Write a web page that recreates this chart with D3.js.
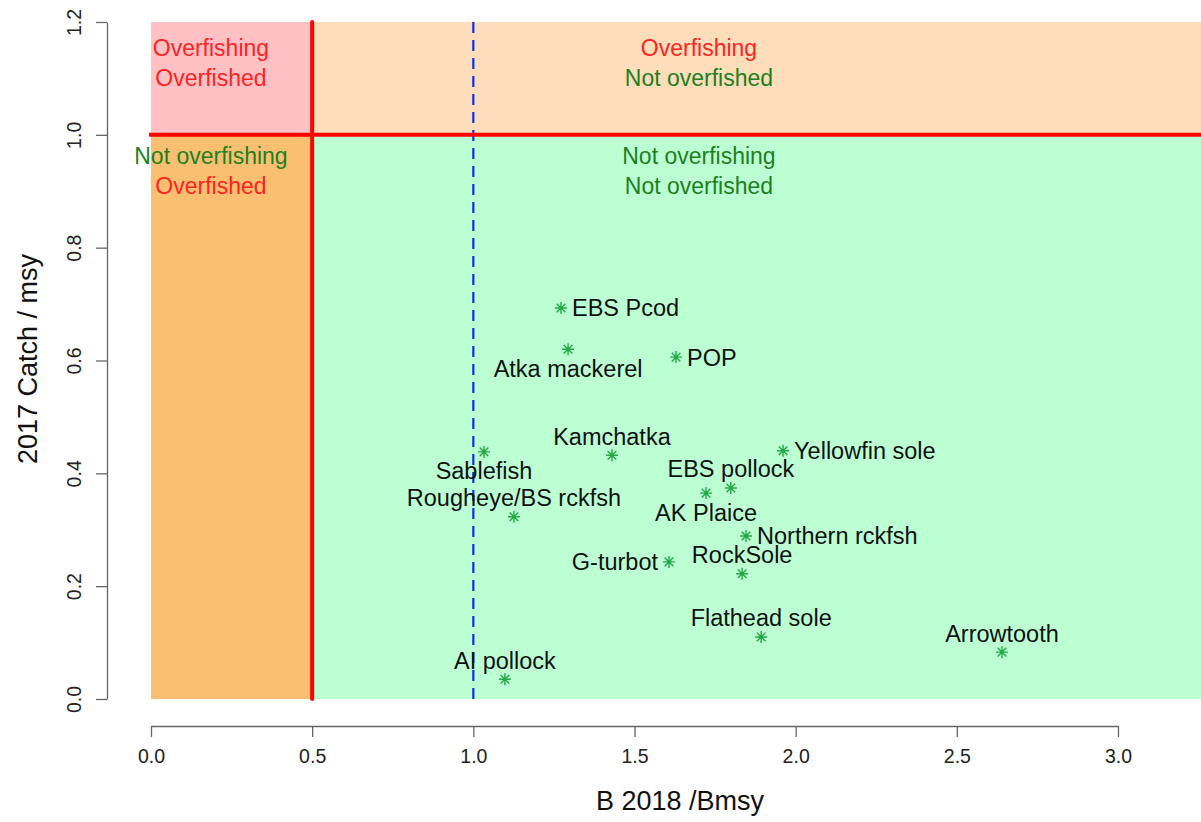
<!DOCTYPE html>
<html>
<head>
<meta charset="utf-8">
<script src="https://cdn.jsdelivr.net/npm/d3@7"></script>
<style>
  html, body { margin: 0; padding: 0; background: #fff; }
  svg { display: block; font-family: "Liberation Sans", Arial, sans-serif; }
</style>
</head>
<body>
<svg id="chart" width="1201" height="822"></svg>
<script>
// ---- data ----
const species = ["EBS Pcod", "Atka mackerel", "POP", "Kamchatka", "Sablefish",
  "Yellowfin sole", "EBS pollock", "AK Plaice", "Rougheye/BS rckfsh",
  "Northern rckfsh", "G-turbot", "RockSole", "Flathead sole", "Arrowtooth", "AI pollock"];
const bRatio = [1.272, 1.294, 1.629, 1.430, 1.033, 1.961, 1.799, 1.722, 1.126,
  1.846, 1.607, 1.834, 1.893, 2.640, 1.098];
const catchRatio = [0.693, 0.620, 0.606, 0.432, 0.438, 0.440, 0.374, 0.365, 0.323,
  0.289, 0.243, 0.222, 0.110, 0.083, 0.035];
// R text() pos codes: 1 below, 2 left, 3 above, 4 right
const labelPos = [4, 1, 4, 3, 1, 4, 3, 1, 3, 4, 2, 3, 3, 3, 3];

const xTicks = [0, 0.5, 1.0, 1.5, 2.0, 2.5, 3.0];
const yTicks = [0, 0.2, 0.4, 0.6, 0.8, 1.0, 1.2];

const bLimit = 0.5, bTarget = 1.0, fLimit = 1.0, yTop = 1.2, xRight = 3.4;

const zones = [
  { x0: 0, x1: bLimit, y0: fLimit, y1: yTop, fill: "#FFC1C4" },
  { x0: bLimit, x1: xRight, y0: fLimit, y1: yTop, fill: "#FDDDBA" },
  { x0: 0, x1: bLimit, y0: 0, y1: fLimit, fill: "#FBBF71" },
  { x0: bLimit, x1: xRight, y0: 0, y1: fLimit, fill: "#BBFFD2" }
];
const zoneText = [
  { x: 0.186, y: 1.128, lines: [["Overfishing", "red"], ["Overfished", "red"]] },
  { x: 1.70, y: 1.128, lines: [["Overfishing", "red"], ["Not overfished", "green"]] },
  { x: 0.186, y: 0.936, lines: [["Not overfishing", "green"], ["Overfished", "red"]] },
  { x: 1.70, y: 0.936, lines: [["Not overfishing", "green"], ["Not overfished", "green"]] }
];

// ---- drawing ----
const svg = d3.select("#chart");
const x = d3.scaleLinear().domain([0, 3]).range([151, 1118]);
const y = d3.scaleLinear().domain([0, 1.2]).range([699, 22]);
const textColor = { red: "#FF2424", green: "#1E7F1E" };

svg.append("g").selectAll("rect").data(zones).join("rect")
  .attr("x", d => x(d.x0)).attr("y", d => y(d.y1))
  .attr("width", d => x(d.x1) - x(d.x0)).attr("height", d => y(d.y0) - y(d.y1))
  .attr("fill", d => d.fill);

// reference lines
svg.append("line")
  .attr("x1", x(bTarget)).attr("x2", x(bTarget)).attr("y1", y(0)).attr("y2", y(yTop))
  .attr("stroke", "#1030E8").attr("stroke-width", 2.2).attr("stroke-dasharray", "11,7");
svg.append("line")
  .attr("x1", x(0) - 2).attr("x2", x(xRight)).attr("y1", y(fLimit)).attr("y2", y(fLimit))
  .attr("stroke", "#FF0000").attr("stroke-width", 4);
svg.append("line")
  .attr("x1", x(bLimit)).attr("x2", x(bLimit)).attr("y1", y(0)).attr("y2", y(yTop))
  .attr("stroke", "#FF0000").attr("stroke-width", 4).attr("stroke-linecap", "round");

// zone texts
const zt = svg.append("g").attr("font-size", 23).attr("text-anchor", "middle");
zoneText.forEach(z => {
  z.lines.forEach((l, i) => {
    zt.append("text")
      .attr("x", x(z.x)).attr("y", y(z.y) + (i - 0.5) * 30)
      .attr("dy", "0.36em")
      .attr("fill", textColor[l[1]])
      .text(l[0]);
  });
});

// axes
const xAxis = d3.axisBottom(x).tickValues(xTicks).tickFormat(d3.format(".1f"))
  .tickSizeOuter(0).tickSizeInner(11).tickPadding(6);
const gx = svg.append("g").attr("transform", "translate(0,726)").call(xAxis);
gx.selectAll("text").attr("font-size", 19.5).attr("fill", "#222")
  .attr("font-family", "Liberation Sans, Arial, sans-serif").attr("dy", "1.0em");

const yAxis = d3.axisLeft(y).tickValues(yTicks).tickFormat(d3.format(".1f"))
  .tickSizeOuter(0).tickSizeInner(11);
const gy = svg.append("g").attr("transform", "translate(107,0)").call(yAxis);
gy.selectAll("text").attr("font-size", 19.5).attr("fill", "#222")
  .attr("font-family", "Liberation Sans, Arial, sans-serif")
  .attr("transform", "rotate(-90)").attr("x", 0).attr("y", -26).attr("dy", 0)
  .attr("text-anchor", "middle");
[gx, gy].forEach(g => {
  g.selectAll("path.domain").attr("stroke", "#666").attr("stroke-width", 1.3);
  g.selectAll(".tick line").attr("stroke", "#666").attr("stroke-width", 1.3);
});

// axis titles
svg.append("text").attr("x", 680).attr("y", 810).attr("text-anchor", "middle")
  .attr("font-size", 27).attr("fill", "#111").text("B 2018 /Bmsy");
svg.append("text").attr("transform", "translate(37,359) rotate(-90)")
  .attr("text-anchor", "middle").attr("font-size", 27).attr("fill", "#111")
  .text("2017 Catch / msy");

// points (asterisk, pch = 8)
const pts = species.map((s, i) => ({ name: s, b: bRatio[i], c: catchRatio[i], pos: labelPos[i] }));
const r = 6, rd = r * 0.72;
const star = `M${-r},0L${r},0M0,${-r}L0,${r}M${-rd},${-rd}L${rd},${rd}M${-rd},${rd}L${rd},${-rd}`;
svg.append("g").selectAll("path").data(pts).join("path")
  .attr("transform", d => `translate(${x(d.b)},${y(d.c)})`)
  .attr("d", star).attr("stroke", "#22A845").attr("stroke-width", 1.4).attr("fill", "none");

// labels
svg.append("g").attr("font-size", 23.5).attr("fill", "#111")
  .selectAll("text").data(pts).join("text")
  .attr("x", d => x(d.b) + (d.pos === 4 ? 11 : d.pos === 2 ? -11 : 0))
  .attr("y", d => y(d.c) + (d.pos === 1 ? 19 : d.pos === 3 ? -19 : 0))
  .attr("dy", "0.36em")
  .attr("text-anchor", d => d.pos === 4 ? "start" : d.pos === 2 ? "end" : "middle")
  .text(d => d.name);
</script>
</body>
</html>
